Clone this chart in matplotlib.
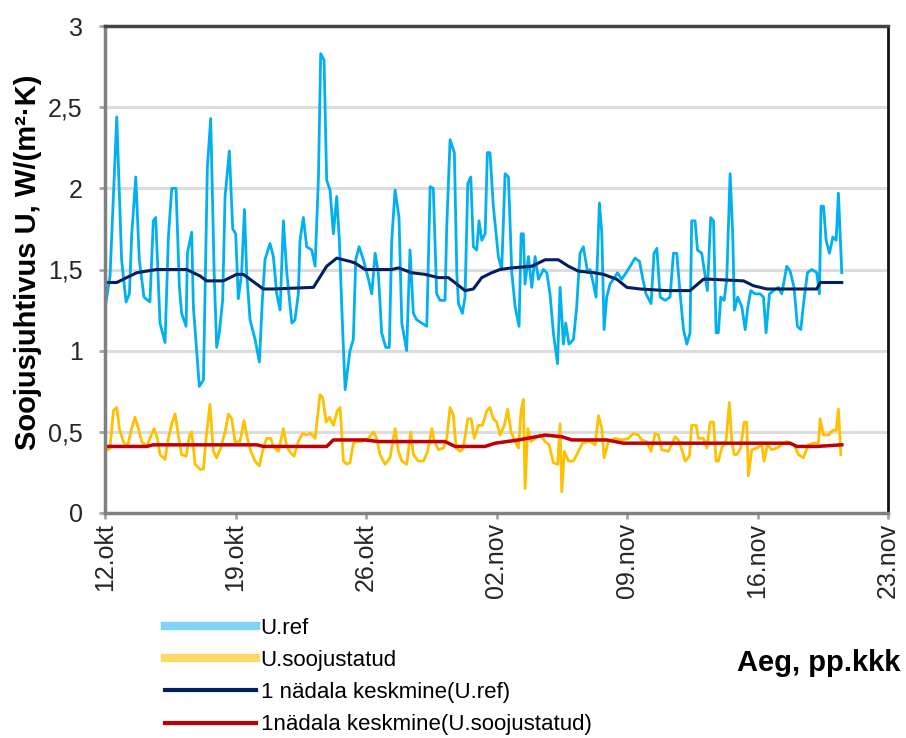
import matplotlib
matplotlib.use('Agg')
import matplotlib.pyplot as plt
from matplotlib.lines import Line2D

plt.rcParams['font.family'] = ['Liberation Sans', 'DejaVu Sans']

# Time axis in days since 12.okt
tick_days = [0, 7, 14, 21, 28, 35, 42]
tick_labels = ['12.okt', '19.okt', '26.okt', '02.nov', '09.nov', '16.nov', '23.nov']

y_ticks = [0, 0.5, 1, 1.5, 2, 2.5, 3]
y_labels = ['0', '0,5', '1', '1,5', '2', '2,5', '3']

# U.ref measurements
uref_days = [
    0.00, 0.27, 0.63, 0.89, 1.13, 1.31, 1.43, 1.65, 1.84, 2.09, 2.41, 2.59, 2.72, 2.95,
    3.22, 3.40, 3.58, 3.81, 3.99, 4.11, 4.35, 4.42, 4.65, 4.74, 5.06, 5.28, 5.49, 5.67,
    5.85, 5.99, 6.13, 6.31, 6.44, 6.67, 6.85, 7.01, 7.15, 7.33, 7.48, 7.60, 7.78, 8.05,
    8.28, 8.44, 8.58, 8.85, 9.03, 9.21, 9.39, 9.57, 9.75, 10.02, 10.19, 10.37, 10.46,
    10.64, 10.82, 11.09, 11.27, 11.45, 11.57, 11.75, 11.89, 12.07, 12.25, 12.43, 12.57,
    12.70, 12.88,
    13.14, 13.32, 13.45, 13.63, 13.86, 14.13, 14.31, 14.49, 14.66, 14.84, 15.06, 15.25,
    15.38, 15.56, 15.77, 15.92, 16.18, 16.36, 16.54, 16.72, 16.99, 17.26, 17.44, 17.61,
    17.79, 17.97, 18.24, 18.33, 18.51, 18.74, 18.87, 18.96, 19.17, 19.31, 19.46, 19.62,
    19.76, 19.94, 20.06, 20.21, 20.39, 20.51, 20.65, 20.83, 21.10, 21.28, 21.46, 21.64,
    21.82, 22.00, 22.21, 22.32, 22.44, 22.53, 22.71, 22.89, 23.07, 23.25, 23.52, 23.70,
    23.87, 24.05, 24.27, 24.41, 24.59, 24.71, 24.89, 25.13, 25.30, 25.48, 25.66, 25.89,
    26.02, 26.20, 26.34, 26.52, 26.65, 26.77, 26.91, 27.09, 27.27, 27.49, 27.72, 27.95,
    28.17, 28.43, 28.67, 28.85, 29.02, 29.29, 29.45, 29.60, 29.78, 30.04, 30.31, 30.49,
    30.67, 30.85, 31.03, 31.21, 31.38, 31.47, 31.65, 31.78, 32.01, 32.14, 32.31, 32.49,
    32.64, 32.78, 32.90, 33.03, 33.21, 33.35, 33.53, 33.67, 33.76, 33.94, 34.16, 34.34,
    34.48, 34.64, 34.87, 35.14, 35.32, 35.46, 35.64, 35.86, 36.12, 36.30, 36.57, 36.75,
    36.96, 37.14, 37.32, 37.47, 37.68, 37.91, 38.18, 38.32, 38.41, 38.54, 38.68, 38.86,
    39.04, 39.22, 39.34, 39.52,
]
uref_vals = [
    1.26, 1.46, 2.44, 1.56, 1.30, 1.35, 1.71, 2.07, 1.56, 1.33, 1.30, 1.80, 1.82, 1.17,
    1.05, 1.70, 2.00, 2.00, 1.39, 1.23, 1.15, 1.60, 1.73, 1.27, 0.78, 0.82, 2.13, 2.43,
    1.50, 1.02, 1.11, 1.31, 1.95, 2.23, 1.75, 1.72, 1.32, 1.48, 1.87, 1.48, 1.19, 1.07,
    0.93, 1.31, 1.56, 1.66, 1.58, 1.35, 1.25, 1.80, 1.48, 1.17, 1.19, 1.35, 1.68,
    1.82, 1.64, 1.62, 1.52, 2.07, 2.83, 2.79, 2.05, 1.99, 1.72, 1.95, 1.68,
    1.27, 0.76,
    1.00, 1.07, 1.56, 1.64, 1.56, 1.44, 1.35, 1.60, 1.48, 1.11, 1.02, 1.02,
    1.68, 1.99, 1.82, 1.17, 1.00, 1.62, 1.23, 1.19, 1.17, 1.15, 2.01, 2.00,
    1.35, 1.31, 1.31, 1.76, 2.30, 2.22, 1.48, 1.29, 1.23, 1.33, 2.03, 2.07,
    1.64, 1.62, 1.80, 1.68, 1.72, 2.22, 2.22, 1.89, 1.58, 1.50, 2.09, 2.07,
    1.48, 1.27, 1.15, 1.72, 1.72, 1.41, 1.58, 1.39, 1.58, 1.44, 1.50, 1.48,
    1.35, 1.11, 0.92, 1.39, 1.04, 1.17, 1.04, 1.07, 1.27, 1.60, 1.64, 1.48,
    1.50, 1.41, 1.33, 1.91, 1.72, 1.13, 1.33, 1.41, 1.44, 1.48, 1.44, 1.48,
    1.52, 1.57, 1.55, 1.44, 1.35, 1.29, 1.60, 1.63, 1.33, 1.31, 1.33, 1.60,
    1.60, 1.35, 1.13, 1.04, 1.11, 1.80, 1.80, 1.62, 1.60, 1.50, 1.37, 1.82,
    1.80, 1.11, 1.11, 1.33, 1.31, 1.44, 2.09, 1.72, 1.25, 1.33, 1.27, 1.13,
    1.27, 1.37, 1.35, 1.35, 1.33, 1.11, 1.35, 1.37, 1.39, 1.35, 1.52, 1.49,
    1.39, 1.15, 1.13, 1.29, 1.48, 1.50, 1.48, 1.35, 1.89, 1.89, 1.68, 1.60,
    1.70, 1.68, 1.97, 1.48,
]

# U.soojustatud measurements
usoo_days = [
    0.00, 0.27, 0.45, 0.63, 0.77, 0.98, 1.20, 1.43, 1.61, 1.79, 1.97, 2.24, 2.41, 2.63,
    2.81, 2.95, 3.22, 3.40, 3.58, 3.76, 3.93, 4.11, 4.35, 4.54, 4.65, 4.83, 5.10, 5.28,
    5.42, 5.63, 5.81, 5.99, 6.21, 6.44, 6.62, 6.80, 6.97, 7.24, 7.46, 7.60, 7.82, 8.05,
    8.28, 8.49, 8.67, 8.89, 9.03, 9.30, 9.57, 9.75, 9.96, 10.14, 10.37, 10.59, 10.82,
    11.03, 11.27, 11.39, 11.53, 11.68, 11.86, 12.04, 12.25, 12.46, 12.61, 12.79, 12.97,
    13.14, 13.32, 13.50, 13.77, 14.13, 14.40, 14.57, 14.75, 15.02, 15.29, 15.56, 15.74,
    15.92, 16.18, 16.40, 16.54, 16.81, 17.08, 17.31, 17.53, 17.67, 17.88, 18.15, 18.33,
    18.51, 18.69, 18.83, 19.05, 19.22, 19.46, 19.64, 19.81, 20.03, 20.24, 20.48, 20.65,
    20.83, 21.01, 21.19, 21.42, 21.60, 21.78, 22.00, 22.18, 22.32, 22.44, 22.53, 22.68,
    22.85, 23.07, 23.34, 23.61, 23.82, 24.05, 24.28, 24.41, 24.50, 24.64, 24.86, 25.13,
    25.39, 25.61, 25.93,
    26.02, 26.29, 26.47, 26.65, 26.77, 27.00, 27.36, 27.72, 28.08, 28.34, 28.61, 28.79,
    29.06, 29.29, 29.51, 29.69, 29.86, 30.22, 30.58, 30.76, 30.94, 31.12, 31.35, 31.47,
    31.71, 31.83, 32.10, 32.28, 32.46, 32.64, 32.78, 32.90, 33.08, 33.32, 33.49, 33.62,
    33.75, 33.89, 34.10, 34.28, 34.42, 34.51, 34.69, 34.96, 35.23, 35.35, 35.53, 35.77,
    36.03, 36.30, 36.57, 36.75, 36.96, 37.20, 37.46, 37.73, 38.00, 38.27, 38.36, 38.54,
    38.81, 39.04, 39.22, 39.34, 39.47,
]
usoo_vals = [
    0.38, 0.40, 0.63, 0.65, 0.52, 0.44, 0.41, 0.52, 0.59, 0.52, 0.44, 0.41, 0.46, 0.52,
    0.46, 0.36, 0.33, 0.46, 0.55, 0.61, 0.48, 0.36, 0.35, 0.48, 0.50, 0.30, 0.27, 0.27,
    0.46, 0.67, 0.38, 0.34, 0.40, 0.50, 0.61, 0.58, 0.44, 0.44, 0.57, 0.48, 0.38, 0.32,
    0.29, 0.40, 0.46, 0.46, 0.41, 0.38, 0.52, 0.41, 0.37, 0.35, 0.44, 0.49, 0.48,
    0.49, 0.46, 0.58, 0.73, 0.71, 0.56, 0.59, 0.54, 0.63, 0.65, 0.32, 0.30,
    0.31, 0.43, 0.44, 0.44, 0.46, 0.50, 0.46, 0.36, 0.30, 0.34, 0.52, 0.38,
    0.32, 0.30, 0.50, 0.36, 0.32, 0.32, 0.38, 0.52, 0.44, 0.39, 0.40, 0.46,
    0.65, 0.60, 0.40, 0.38, 0.40, 0.58, 0.58, 0.46, 0.54, 0.54, 0.63, 0.65,
    0.58, 0.56, 0.48, 0.54, 0.64, 0.50, 0.44, 0.40, 0.63, 0.70, 0.15, 0.52,
    0.44, 0.46, 0.48, 0.44, 0.42, 0.31, 0.30, 0.55, 0.13, 0.38, 0.32, 0.32,
    0.38, 0.43, 0.44,
    0.44, 0.42, 0.60, 0.52, 0.34, 0.44, 0.46, 0.45, 0.46, 0.49, 0.48, 0.45,
    0.44, 0.38, 0.49, 0.48, 0.39, 0.38, 0.47, 0.45, 0.39, 0.32, 0.35, 0.54,
    0.54, 0.46, 0.46, 0.40, 0.56, 0.56, 0.32, 0.32, 0.40, 0.45, 0.68, 0.44,
    0.36, 0.36, 0.40, 0.56, 0.56, 0.23, 0.39, 0.40, 0.42, 0.32, 0.42, 0.39,
    0.40, 0.42, 0.44, 0.43, 0.42, 0.36, 0.34, 0.42, 0.43, 0.43, 0.58, 0.48,
    0.48, 0.51, 0.51, 0.64, 0.36,
]

# 1-week averages
avg_ref_days = [
    0.00, 0.63, 1.16, 1.70, 2.77, 4.38, 5.10, 5.45, 6.35, 7.06, 7.42, 8.49, 9.03, 11.18,
    11.89, 12.43, 13.14, 13.41, 13.95, 14.66, 15.38, 15.74, 16.45, 17.17, 17.88, 18.42,
    18.87, 19.31, 19.76, 20.21, 20.74, 21.19, 21.82, 22.89, 23.61, 24.32, 24.86, 25.39,
    26.25, 26.74, 27.45, 27.99, 28.70, 30.13, 31.38, 32.10, 32.46, 34.25, 34.78, 35.50,
    38.18, 38.36, 39.52,
]
avg_ref_vals = [
    1.42, 1.42, 1.45, 1.48, 1.50, 1.50, 1.46, 1.43, 1.43, 1.47, 1.47, 1.38, 1.38, 1.39,
    1.52, 1.57, 1.55, 1.54, 1.50, 1.50, 1.50, 1.51, 1.48, 1.47, 1.45, 1.45,
    1.41, 1.37, 1.38, 1.45, 1.48, 1.50, 1.51, 1.52, 1.56, 1.56, 1.52, 1.49,
    1.48, 1.47, 1.44, 1.39, 1.38, 1.37, 1.37, 1.44, 1.44, 1.43, 1.40, 1.38,
    1.38, 1.42, 1.42,
]
avg_soo_days = [
    0.00, 2.24, 2.59, 8.14, 8.49, 11.89, 12.25, 13.95, 14.66, 18.24, 18.78, 20.39,
    20.92, 22.18, 23.61, 24.50, 25.04, 26.91, 27.81, 36.75, 37.11, 38.18, 39.52,
]
avg_soo_vals = [
    0.41, 0.41, 0.42, 0.42, 0.41, 0.41, 0.45, 0.45, 0.44, 0.44, 0.41, 0.41,
    0.43, 0.45, 0.48, 0.47, 0.45, 0.45, 0.43, 0.43, 0.41, 0.41, 0.42,
]

series_names = ['U.ref', 'U.soojustatud', '1 nädala keskmine(U.ref)',
                '1nädala keskmine(U.soojustatud)']
series_colors = ['#00b0f0', '#ffc000', '#002060', '#c00000']

W, H = 906, 738
fig = plt.figure(figsize=(W / 100, H / 100), dpi=100)
ax = fig.add_axes([105 / W, 1 - 513 / H, (888 - 105) / W, (513 - 26) / H])

ax.plot(uref_days, uref_vals, color=series_colors[0], lw=2)
ax.plot(usoo_days, usoo_vals, color=series_colors[1], lw=2)
ax.plot(avg_ref_days, avg_ref_vals, color=series_colors[2], lw=2.2)
ax.plot(avg_soo_days, avg_soo_vals, color=series_colors[3], lw=2.5)

ax.set_xlim(tick_days[0], tick_days[-1])
ax.set_ylim(0, 3)
ax.set_yticks(y_ticks)
ax.set_yticklabels(y_labels, fontsize=18)
ax.set_xticks(tick_days)
ax.set_xticklabels(tick_labels, rotation=90, fontsize=18)
ax.grid(axis='y', color='#dcdcdc', lw=2.2)
ax.set_axisbelow(True)
ax.tick_params(axis='both', direction='out', length=4, width=2, color='#a6a6a6',
               labelcolor='#262626')
ax.tick_params(axis='y', pad=12)
ax.tick_params(axis='x', pad=3)

ax.spines['left'].set_color('#808080')
ax.spines['left'].set_linewidth(2.5)
ax.spines['bottom'].set_color('#808080')
ax.spines['bottom'].set_linewidth(2.5)
ax.spines['top'].set_color('#444444')
ax.spines['top'].set_linewidth(2.5)
ax.spines['right'].set_color('#111111')
ax.spines['right'].set_linewidth(2)

# legend below the plot, thick swatches for the raw series
handles = [
    Line2D([], [], color='#7fd3f7', lw=6),
    Line2D([], [], color='#ffd966', lw=6),
    Line2D([], [], color=series_colors[2], lw=3),
    Line2D([], [], color=series_colors[3], lw=3),
]
fig.legend(handles, series_names, loc='upper left',
           bbox_to_anchor=(165 / W, 1 - 618 / H), frameon=False, fontsize=16,
           handlelength=4.1, handletextpad=0.2, labelspacing=0.5,
           borderpad=0, borderaxespad=0)

fig.text(900 / W, 1 - 663 / H, 'Aeg, pp.kkk', ha='right', va='center',
         fontsize=21, fontweight='bold')
fig.text(28 / W, 1 - 262 / H, 'Soojusjuhtivus U, W/(m²·K)', rotation=90,
         ha='center', va='center', fontsize=21, fontweight='bold')

fig.savefig('out.png', dpi=100)
